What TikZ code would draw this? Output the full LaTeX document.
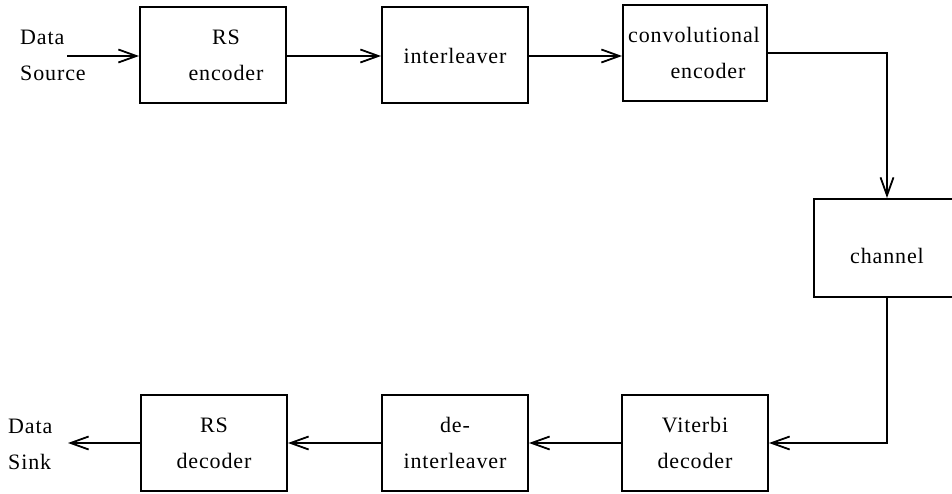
\documentclass[tikz,border=0pt]{standalone}
\usepackage{fontspec}
\setmainfont{Liberation Serif}[LetterSpace=4]
\usetikzlibrary{arrows.meta}

\tikzset{
  blockbox/.style={draw, line width=2pt, minimum width=146pt, minimum height=96pt, inner sep=0pt},
  lbl/.style={align=center, inner sep=0pt, font=\fontsize{22}{36}\selectfont},
  sidelbl/.style={align=left, inner sep=0pt, anchor=west, font=\fontsize{22}{36}\selectfont},
  link/.style={line width=2pt, -{Straight Barb[length=18pt, width=13pt, line width=1.8pt]}},
}

\begin{document}
\begin{tikzpicture}[x=1pt, y=1pt]
  \clip (0,0) rectangle (952,493);

  % transmitter chain
  \node[blockbox] (rse)  at (213,438) {};
  \node[lbl] (rsetxt) at (226,438) {RS\\encoder};
  \node[blockbox] (intl) at (455,438) {};
  \node[lbl] (intltxt) at (455,437) {interleaver};
  \node[blockbox, minimum width=144pt] (conv) at (695,440) {};
  \node[lbl] (convtxt) at (694,440) {convolutional\\\hspace*{28pt}encoder};

  % channel
  \node[blockbox, minimum height=98pt] (chan) at (887,245) {};
  \node[lbl] (chantxt) at (887,237) {channel};

  % receiver chain
  \node[blockbox] (vit)  at (695,50) {};
  \node[lbl] (vittxt) at (695,50) {Viterbi\\decoder};
  \node[blockbox] (dint) at (455,50) {};
  \node[lbl] (dinttxt) at (455,50) {de-\\interleaver};
  \node[blockbox] (rsd)  at (214,50) {};
  \node[lbl] (rsdtxt) at (214,50) {RS\\decoder};

  % source and sink
  \node[sidelbl] (src) at (20,438) {Data\\Source};
  \coordinate (srcend) at (67,437);
  \node[sidelbl] (snk) at (8,49) {Data\\Sink};
  \coordinate (snkend) at (68,50);

  % connectors
  \draw[link] (srcend) -- (srcend -| rse.west);
  \draw[link] (rse.east |- srcend) -- (intl.west |- srcend);
  \draw[link] (intl.east |- srcend) -- (conv.west |- srcend);
  \draw[link] (conv.east) -| (chan.north);
  \draw[link] (chan.south) |- (vit.east);
  \draw[link] (vit.west) -- (dint.east);
  \draw[link] (dint.west) -- (rsd.east);
  \draw[link] (rsd.west) -- (snkend);
\end{tikzpicture}
\end{document}
